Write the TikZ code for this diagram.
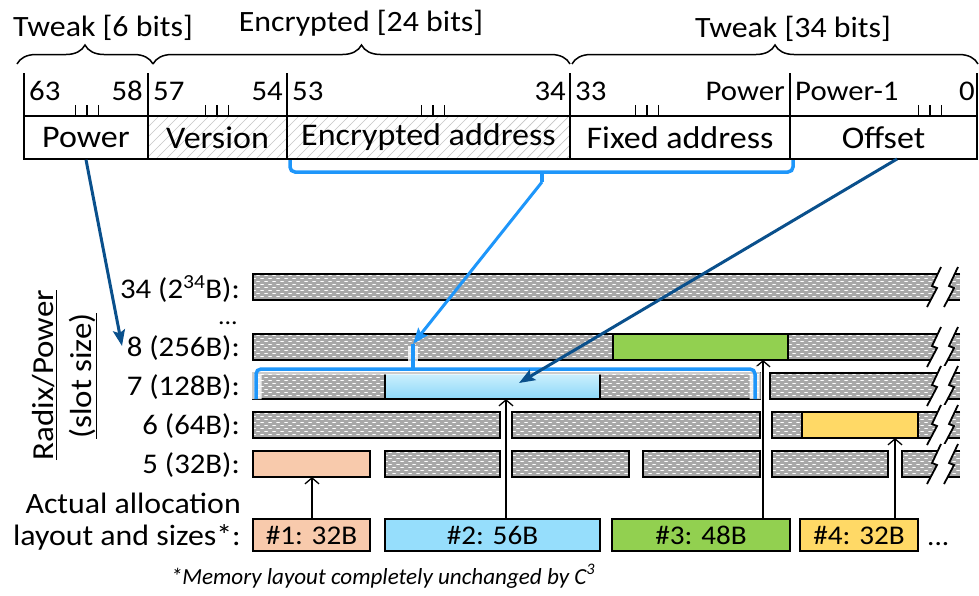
\documentclass[tikz,border=0pt]{standalone}
\usepackage{fontspec}
\setmainfont{Carlito}[FakeStretch=1.08]
\usetikzlibrary{arrows.meta,patterns,decorations.pathreplacing}
\pgfdeclarepatternformonly{bardots}{\pgfqpoint{-1pt}{-1pt}}{\pgfqpoint{9pt}{7pt}}{\pgfqpoint{8pt}{6pt}}{%
 \pgfsetlinewidth{1.7pt}\pgfsetroundcap
 \pgfpathmoveto{\pgfqpoint{1pt}{1.5pt}}\pgfpathlineto{\pgfqpoint{3.2pt}{1.5pt}}
 \pgfpathmoveto{\pgfqpoint{5pt}{4.5pt}}\pgfpathlineto{\pgfqpoint{7.2pt}{4.5pt}}
 \pgfusepath{stroke}}
\pgfdeclarepatternformonly{hatchlines}{\pgfqpoint{-1pt}{-1pt}}{\pgfqpoint{11pt}{11pt}}{\pgfqpoint{10pt}{10pt}}{%
 \pgfsetlinewidth{0.7pt}
 \pgfpathmoveto{\pgfqpoint{-0.5pt}{-0.5pt}}\pgfpathlineto{\pgfqpoint{10.5pt}{10.5pt}}
 \pgfusepath{stroke}}
\definecolor{bargray}{RGB}{168,168,168}
\definecolor{lblue}{RGB}{30,150,250}
\definecolor{dblue}{RGB}{10,80,140}
\definecolor{cgreen}{RGB}{146,208,80}
\definecolor{cyellow}{RGB}{255,217,102}
\definecolor{corange}{RGB}{248,202,172}
\definecolor{cbox}{RGB}{150,222,252}
\definecolor{bluetop}{RGB}{205,240,253}
\definecolor{bluebot}{RGB}{140,216,249}
\tikzset{
  field/.style={draw, line width=1.4pt, minimum height=43pt, inner sep=0pt, font=\fontsize{31.5}{33}\selectfont},
  bitlbl/.style={inner sep=0pt, font=\fontsize{28.5}{30}\selectfont},
  toplbl/.style={inner sep=0pt, font=\fontsize{29.5}{31}\selectfont},
  rowlbl/.style={inner sep=0pt, anchor=base east, font=\fontsize{28.5}{30}\selectfont},
  barline/.style={line width=1.6pt},
  brkline/.style={line width=1.8pt},
  abox/.style={draw, line width=1.6pt, minimum height=32pt, inner sep=0pt, font=\fontsize{27}{29}\selectfont},
  uparr/.style={line width=1.3pt, -{Straight Barb[length=6pt,width=14pt]}},
  darr/.style={dblue, line width=3pt, -{Stealth[length=16pt,width=12pt,inset=3pt]}},
  larr/.style={lblue, line width=3pt, -{Stealth[length=16pt,width=12pt,inset=3pt]}},
  lbrack/.style={lblue, line width=3.5pt, rounded corners=5pt},
  glow/.style={white, line width=11pt, opacity=0.8, rounded corners=5pt},
  brc/.style={line width=1.5pt, decorate, decoration={brace, amplitude=19pt}}
}
\newcommand\gseg[3]{%
  \path[fill=bargray,postaction={pattern=bardots,pattern color=white}] (#1,#3) rectangle (#2,#3+26);
  \draw[barline] (#1,#3) rectangle (#2,#3+26);}
\newcommand\gend[2]{%
  \path[fill=bargray,postaction={pattern=bardots,pattern color=white}] (#1,#2) rectangle (960,#2+26);
  \draw[barline] (960,#2)--(#1,#2)--(#1,#2+26)--(960,#2+26);}
\newcommand\brkmark[1]{%
  \begin{scope}[shift={(0,#1)}]
  \fill[white] (941,-7)--(932,12)--(937,14)--(927,33)--(944,33)--(954,14)--(949,12)--(958,-7)--cycle;
  \draw[brkline] (941,-7)--(932,12)--(937,14)--(927,33);
  \draw[brkline] (958,-7)--(949,12)--(954,14)--(944,33);
  \end{scope}}
\newcommand\tks[1]{\draw[line width=1.2pt] (#1-11.5,116)--(#1-11.5,105) (#1,116)--(#1,105) (#1+11.5,116)--(#1+11.5,105);}
\begin{document}
\begin{tikzpicture}[x=1pt,y=-1pt]
\useasboundingbox (0,0) rectangle (979,595);
% ---------- register ----------
\node[field, minimum width=124pt] (fpow) at (86,137.5) {Power};
\node[field, minimum width=139pt, pattern=hatchlines, pattern color=gray!45] (fver) at (217.5,137.5) {};
\node[field, minimum width=283pt, pattern=hatchlines, pattern color=gray!45] (fenc) at (428.5,137.5) {};
\node[field, draw=none] (tver) at (fver) {Version};
\node[field, draw=none] (tenc) at (fenc) {Encrypted address};
\node[field, minimum width=220pt] (ffix) at (680,137.5) {Fixed address};
\node[field, minimum width=187pt] (foff) at (883.5,137.5) {Offset};
\draw[line width=1.4pt] (24,73)--(24,116) (148,73)--(148,116) (287,73)--(287,116) (570,73)--(570,116) (790,73)--(790,116) (977,73)--(977,116);
\tks{87}\tks{217}\tks{433}\tks{647}\tks{930}
\node[bitlbl, anchor=base west] (n63) at (29,100) {63};
\node[bitlbl, anchor=base east] (n58) at (143,100) {58};
\node[bitlbl, anchor=base west] (n57) at (153,100) {57};
\node[bitlbl, anchor=base east] (n54) at (283,100) {54};
\node[bitlbl, anchor=base west] (n53) at (292,100) {53};
\node[bitlbl, anchor=base east] (n34) at (566,100) {34};
\node[bitlbl, anchor=base west] (n33) at (575,100) {33};
\node[bitlbl, anchor=base east] (npw) at (785,100) {Power};
\node[bitlbl, anchor=base west] (npm) at (795,100) {Power-1};
\node[bitlbl, anchor=base east] (n0) at (975,100) {0};
% braces
\draw[brc] (17,64) -- (153,64);
\draw[brc] (153,64) -- (570,64);
\draw[brc] (572,64) -- (978,64);
\node[toplbl, anchor=base] (t1) at (103,36) {Tweak [6 bits]};
\node[toplbl, anchor=base] (t2) at (361,31) {Encrypted [24 bits]};
\node[toplbl, anchor=base] (t3) at (793,37) {Tweak [34 bits]};
% ---------- rows ----------
\node[rowlbl] (r34) at (240,298) {34 (2\textsuperscript{34}B):};
\node[rowlbl, font=\fontsize{24}{26}\selectfont] (rdots) at (238,324) {...};
\node[rowlbl] (r8) at (240,356) {8 (256B):};
\node[rowlbl] (r7) at (240,395) {7 (128B):};
\node[rowlbl] (r6) at (240,434) {6 (64B):};
\node[rowlbl] (r5) at (240,473) {5 (32B):};
\node[rotate=90, inner sep=0pt, font=\fontsize{30.5}{32}\selectfont] (rad) at (45,375) {\underline{Radix/Power}};
\node[rotate=90, inner sep=0pt, font=\fontsize{30.5}{32}\selectfont] (slot) at (83,376) {\underline{(slot size)}};
% row 34
\gend{253}{274}\brkmark{274}
% row 8
\gend{253}{334}
\draw[barline, fill=cgreen] (613,334) rectangle (788,360);
\brkmark{334}
% row 7
\gseg{253}{760}{373}
\shade[top color=bluetop, bottom color=bluebot] (385,373) rectangle (600,399);
\draw[barline] (385,373) rectangle (600,399);
\draw[barline] (253,373) rectangle (760,399);
\gend{770}{373}\brkmark{373}
% row 6
\gseg{253}{500}{412}\gseg{512}{760}{412}
\gend{772}{412}
\draw[barline, fill=cyellow] (802,412) rectangle (918,438);
\brkmark{412}
% row 5
\draw[barline, fill=corange] (253,451) rectangle (370,477);
\gseg{385}{500}{451}\gseg{512}{629}{451}\gseg{643}{760}{451}\gseg{772}{888}{451}
\gend{902}{451}\brkmark{451}
% ---------- allocation boxes ----------
\node[rowlbl, font=\fontsize{29.5}{31}\selectfont] (al1) at (241,513) {Actual allocation};
\node[rowlbl, font=\fontsize{29.5}{31}\selectfont] (al2) at (241,545) {layout and sizes*:};
\node[abox, fill=corange, minimum width=117pt] (b1) at (311.5,535) {\#1: 32B};
\node[abox, fill=cbox, minimum width=215pt] (b2) at (492.5,535) {\#2: 56B};
\node[abox, fill=cgreen, minimum width=178pt] (b3) at (701,535) {\#3: 48B};
\node[abox, fill=cyellow, minimum width=118pt] (b4) at (859,535) {\#4: 32B};
\node[rowlbl, anchor=base west, font=\fontsize{27}{29}\selectfont] (bdots) at (927,545) {...};
\coordinate (u1) at (312,477);
\coordinate (u2) at (506,399);
\coordinate (u3) at (763,360);
\coordinate (u4) at (895,438);
\draw[uparr] (b1.north -| u1) -- (u1);
\draw[uparr] (b2.north -| u2) -- (u2);
\draw[uparr] (b3.north -| u3) -- (u3);
\draw[uparr] (b4.north -| u4) -- (u4);
\node[inner sep=0pt, anchor=base, font=\fontsize{23}{25}\selectfont\itshape, xscale=0.93] (foot) at (383,584) {*Memory layout completely unchanged by C\textsuperscript{3}};
% ---------- brackets and arrows ----------
\draw[lbrack] (290,160) -- (290,172) -- (793,172) -- (793,160);
\coordinate (ktop) at (542,172);
\coordinate (kbot) at (542,182);
\draw[lblue, line width=3.5pt] (ktop) -- (kbot);
\draw[glow] (256,399) -- (256,369) -- (755,369) -- (755,399);
\draw[white, line width=10pt, opacity=0.8] (413,369) -- (413,346);
\draw[lbrack] (256,399) -- (256,369) -- (755,369) -- (755,399);
\coordinate (k7) at (413,369);
\coordinate (k7t) at (413,344);
\draw[lblue, line width=3.5pt] (k7) -- (k7t);
\draw[larr] (kbot) -- (k7t);
\coordinate (pwt) at (122,346);
\draw[darr] (fpow.south) -- (pwt);
\coordinate (oft) at (519,383);
\coordinate (ofs) at (897,159);
\draw[darr] (ofs) -- (oft);
\end{tikzpicture}
\end{document}
